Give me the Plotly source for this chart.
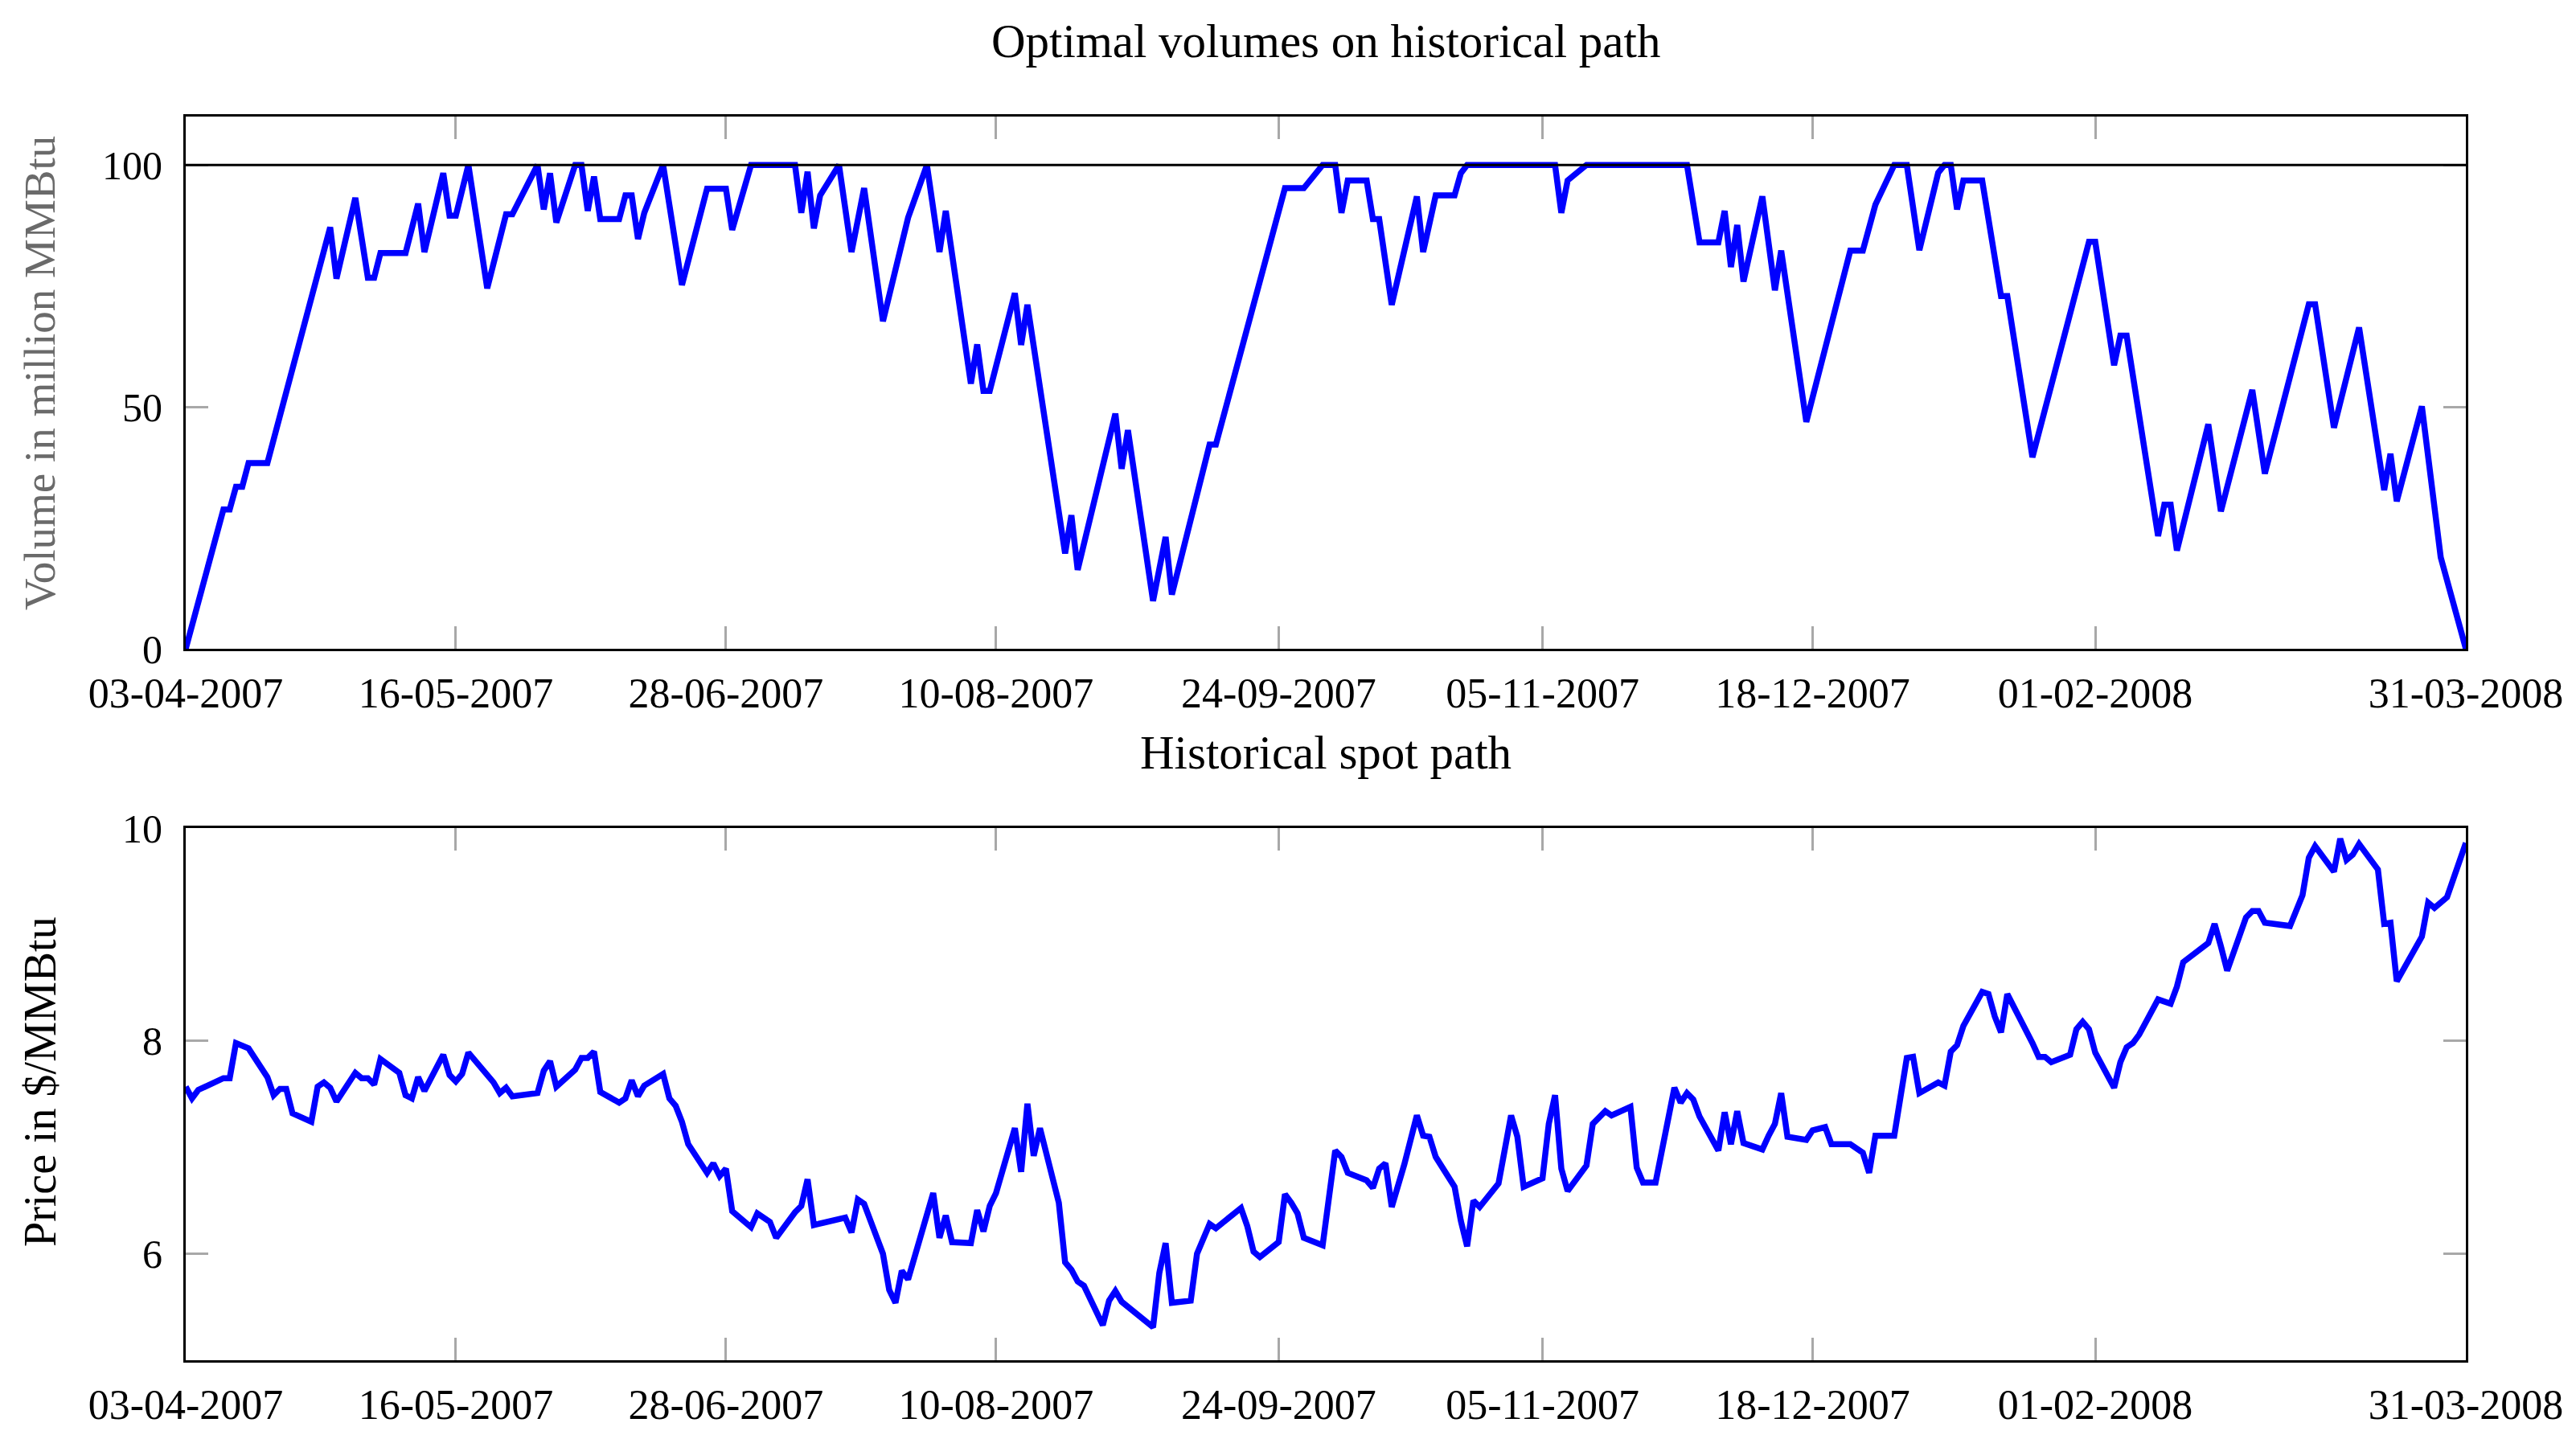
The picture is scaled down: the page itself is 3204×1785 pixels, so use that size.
import plotly.graph_objects as go
import pandas as pd

# ---------- Data ----------
start_date = "2007-04-03"

# optimal volumes: days after start date, million MMBtu
vol_days = [
    0, 6, 7, 8, 9, 10, 13, 23, 24, 27, 29, 30, 31, 35, 37, 38, 41, 42, 43, 45,
    48, 51, 52, 56, 57, 58, 59, 62, 63, 64, 65, 66, 69, 70, 71, 72, 73, 76, 79, 83,
    86, 87, 90, 97, 98, 99, 100, 101, 104, 106, 108, 111, 115, 118, 120, 121, 125, 126, 127, 128,
    132, 133, 134, 140, 141, 142, 148, 149, 150, 154, 156, 157, 163, 164, 175, 178, 181, 183, 184, 185,
    188, 189, 190, 192, 196, 197, 199, 202, 203, 204, 218, 219, 220, 223, 239, 241, 244, 245, 246, 247,
    248, 251, 253, 254, 258, 265, 267, 269, 272, 274, 276, 279, 280, 281, 282, 283, 286, 289, 290, 294,
    303, 304, 307, 308, 309, 314, 315, 316, 317, 322, 324, 329, 331, 338, 339, 342, 346, 350, 351, 352,
    356, 359, 363,
]
vol_values = [
    0, 28.8, 28.8, 33.5, 33.5, 38.4, 38.4, 87.1, 76.5, 93.2, 76.7, 76.7, 81.8, 81.8, 92.0, 82.0, 98.3, 89.5, 89.5, 100,
    74.5, 89.8, 89.8, 100, 90.8, 98.3, 88.1, 100, 100, 90.5, 97.6, 88.8, 88.8, 93.7, 93.7, 84.7, 90.1, 100, 75.2, 95.1,
    95.1, 86.6, 100, 100, 90.1, 98.6, 86.9, 93.7, 100, 82.0, 95.2, 67.7, 89.1, 100, 82.0, 90.5, 54.8, 62.9, 53.3, 53.3,
    73.5, 62.8, 71.1, 19.7, 27.6, 16.3, 48.6, 37.2, 45.2, 9.9, 23.1, 11.2, 42.2, 42.2, 95.2, 95.2, 100, 100, 90.1, 96.8,
    96.8, 88.8, 88.8, 71.1, 93.5, 82.0, 93.7, 93.7, 98.3, 100, 100, 90.1, 96.8, 100, 100, 84.0, 84.0, 90.5, 78.9, 87.6,
    75.9, 93.5, 74.1, 82.3, 46.9, 82.3, 82.3, 91.8, 100, 100, 82.4, 98.4, 100, 100, 90.8, 96.8, 96.8, 72.9, 72.9, 39.6,
    84.1, 84.1, 58.6, 64.7, 64.7, 23.3, 29.8, 29.8, 20.3, 46.4, 28.4, 53.5, 36.2, 71.2, 71.2, 45.7, 66.4, 32.8, 40.3, 30.5,
    50.1, 18.9, 0,
]
capacity = 100

# historical spot price: days after start date, $/MMBtu
price_days = [
    0, 1, 2, 6, 7, 8, 10, 13, 14, 15, 16, 17, 20, 21, 22, 23, 24, 27, 28, 29,
    30, 31, 34, 35, 36, 37, 38, 41, 42, 43, 44, 45, 49, 50, 51, 52, 56, 57, 58, 59,
    62, 63, 64, 65, 66, 69, 70, 71, 72, 73, 76, 77, 78, 79, 80, 83, 84, 85, 86, 87,
    90, 91, 93, 94, 97, 98, 99, 100, 105, 106, 107, 108, 111, 112, 113, 114, 115, 119, 120, 121,
    122, 125, 126, 127, 128, 129, 132, 133, 134, 135, 136, 139, 140, 141, 142, 143, 146, 147, 148, 149,
    154, 155, 156, 157, 160, 161, 163, 164, 168, 169, 170, 171, 174, 175, 176, 177, 178, 181, 183, 184,
    185, 188, 189, 190, 191, 192, 194, 196, 197, 198, 199, 202, 203, 204, 205, 206, 209, 211, 212, 213,
    216, 217, 218, 219, 220, 223, 224, 226, 227, 230, 231, 232, 234, 237, 238, 239, 240, 241, 244, 245,
    246, 247, 248, 251, 252, 253, 254, 255, 258, 259, 261, 262, 265, 267, 268, 269, 272, 274, 275, 276,
    279, 280, 281, 282, 283, 286, 287, 288, 289, 290, 294, 295, 296, 297, 300, 301, 302, 303, 304, 307,
    308, 309, 310, 311, 314, 316, 317, 318, 322, 323, 324, 325, 328, 329, 330, 331, 335, 337, 338, 339,
    342, 343, 344, 345, 346, 349, 350, 351, 352, 356, 357, 358, 360, 363,
]
price_values = [
    7.57, 7.46, 7.54, 7.65, 7.65, 7.98, 7.93, 7.66, 7.49, 7.55, 7.55, 7.32, 7.24, 7.57, 7.61, 7.56, 7.43, 7.70, 7.65, 7.65,
    7.59, 7.83, 7.70, 7.49, 7.46, 7.66, 7.53, 7.87, 7.68, 7.62, 7.69, 7.89, 7.61, 7.51, 7.56, 7.48, 7.51, 7.72, 7.81, 7.57,
    7.73, 7.84, 7.84, 7.90, 7.52, 7.42, 7.46, 7.63, 7.48, 7.58, 7.69, 7.46, 7.39, 7.24, 7.03, 6.76, 6.85, 6.73, 6.80, 6.40,
    6.25, 6.38, 6.30, 6.15, 6.39, 6.45, 6.70, 6.27, 6.34, 6.20, 6.51, 6.47, 6.00, 5.66, 5.54, 5.84, 5.76, 6.57, 6.15, 6.36,
    6.11, 6.10, 6.41, 6.21, 6.45, 6.57, 7.18, 6.77, 7.41, 6.92, 7.18, 6.48, 5.92, 5.85, 5.74, 5.70, 5.33, 5.56, 5.65, 5.55,
    5.31, 5.82, 6.10, 5.54, 5.56, 6.00, 6.28, 6.24, 6.43, 6.26, 6.02, 5.97, 6.11, 6.56, 6.48, 6.38, 6.15, 6.08, 6.97, 6.91,
    6.76, 6.69, 6.62, 6.80, 6.85, 6.44, 6.84, 7.30, 7.11, 7.10, 6.91, 6.63, 6.31, 6.07, 6.50, 6.44, 6.66, 7.30, 7.10, 6.63,
    6.71, 7.22, 7.49, 6.80, 6.59, 6.83, 7.22, 7.34, 7.30, 7.38, 6.81, 6.67, 6.67, 7.56, 7.42, 7.51, 7.45, 7.29, 6.97, 7.33,
    7.03, 7.34, 7.04, 6.98, 7.11, 7.22, 7.51, 7.10, 7.07, 7.16, 7.19, 7.03, 7.03, 6.95, 6.76, 7.11, 7.11, 7.84, 7.85, 7.51,
    7.61, 7.58, 7.90, 7.96, 8.14, 8.46, 8.44, 8.23, 8.08, 8.44, 7.98, 7.85, 7.85, 7.80, 7.87, 8.11, 8.18, 8.11, 7.89, 7.56,
    7.80, 7.94, 7.98, 8.06, 8.39, 8.35, 8.51, 8.74, 8.92, 9.10, 8.89, 8.66, 9.16, 9.22, 9.22, 9.11, 9.08, 9.37, 9.72, 9.83,
    9.59, 9.90, 9.70, 9.75, 9.85, 9.61, 9.10, 9.11, 8.56, 8.98, 9.30, 9.25, 9.35, 9.86,
]

tick_dates = ["2007-04-03", "2007-05-16", "2007-06-28", "2007-08-10", "2007-09-24",
              "2007-11-05", "2007-12-18", "2008-02-01", "2008-03-31"]
tick_labels = ["03-04-2007", "16-05-2007", "28-06-2007", "10-08-2007", "24-09-2007",
               "05-11-2007", "18-12-2007", "01-02-2008", "31-03-2008"]
vol_ticks = [0, 50, 100]
price_ticks = [6, 8, 10]

# ---------- Figure ----------
t0 = pd.Timestamp(start_date)
vol_x = t0 + pd.to_timedelta(vol_days, unit="D")
price_x = t0 + pd.to_timedelta(price_days, unit="D")

FONT = "Liberation Serif"
BLUE = "#0000ff"
W, H = 3204, 1785
PAD = 8  # page body margin of the html

def px_x(p):
    return (p - PAD) / W

def px_y(p):
    return 1 - (p - PAD) / H

fig = go.Figure()
fig.add_trace(go.Scatter(x=vol_x, y=vol_values, mode="lines",
                         line=dict(color=BLUE, width=7.5), xaxis="x", yaxis="y",
                         showlegend=False))
fig.add_trace(go.Scatter(x=price_x, y=price_values, mode="lines",
                         line=dict(color=BLUE, width=7.5), xaxis="x2", yaxis="y2",
                         showlegend=False))

# capacity line
fig.add_shape(type="line", xref="x domain", yref="y", x0=0, x1=1, y0=capacity, y1=capacity,
              line=dict(color="black", width=3), layer="above")

x_common = dict(
    type="date", range=[tick_dates[0], tick_dates[-1]],
    domain=[px_x(231), px_x(3067)],
    tickmode="array", tickvals=tick_dates, ticktext=tick_labels,
    ticks="inside", ticklen=28, tickwidth=2.5, tickcolor="#a8a8a8",
    showline=True, linecolor="black", linewidth=3, mirror="allticks",
    showgrid=False, zeroline=False, automargin=False,
    ticklabelstandoff=8,
    tickfont=dict(family=FONT, size=52, color="black"),
)
y_common = dict(
    tickmode="array",
    ticks="inside", ticklen=28, tickwidth=2.5, tickcolor="#a8a8a8",
    showline=True, linecolor="black", linewidth=3, mirror="allticks",
    showgrid=False, zeroline=False, automargin=False,
    ticklabelstandoff=16,
    tickfont=dict(family=FONT, size=50, color="black"),
)

fig.update_layout(
    width=W, height=H,
    margin=dict(l=0, r=0, t=0, b=0),
    paper_bgcolor="white", plot_bgcolor="white",
    xaxis=dict(**x_common, anchor="y"),
    yaxis=dict(**y_common, range=[0, 110], tickvals=vol_ticks,
               domain=[px_y(807), px_y(145)], anchor="x"),
    xaxis2=dict(**x_common, anchor="y2"),
    yaxis2=dict(**y_common, range=[5, 10], tickvals=price_ticks,
                domain=[px_y(1692), px_y(1030)], anchor="x2"),
    annotations=[
        dict(text="Optimal volumes on historical path", xref="paper", yref="paper",
             x=px_x(1649), y=px_y(51), showarrow=False, xanchor="center", yanchor="middle",
             font=dict(family=FONT, size=59, color="black")),
        dict(text="Historical spot path", xref="paper", yref="paper",
             x=px_x(1649), y=px_y(936), showarrow=False, xanchor="center", yanchor="middle",
             font=dict(family=FONT, size=59, color="black")),
        dict(text="Volume in million MMBtu", xref="paper", yref="paper",
             x=px_x(50), y=px_y(464), showarrow=False, textangle=-90,
             xanchor="center", yanchor="middle",
             font=dict(family=FONT, size=55, color="#6a6a6a")),
        dict(text="Price in $/MMBtu", xref="paper", yref="paper",
             x=px_x(50), y=px_y(1346), showarrow=False, textangle=-90,
             xanchor="center", yanchor="middle",
             font=dict(family=FONT, size=56, color="black")),
    ],
)

fig.write_html("out.html")
